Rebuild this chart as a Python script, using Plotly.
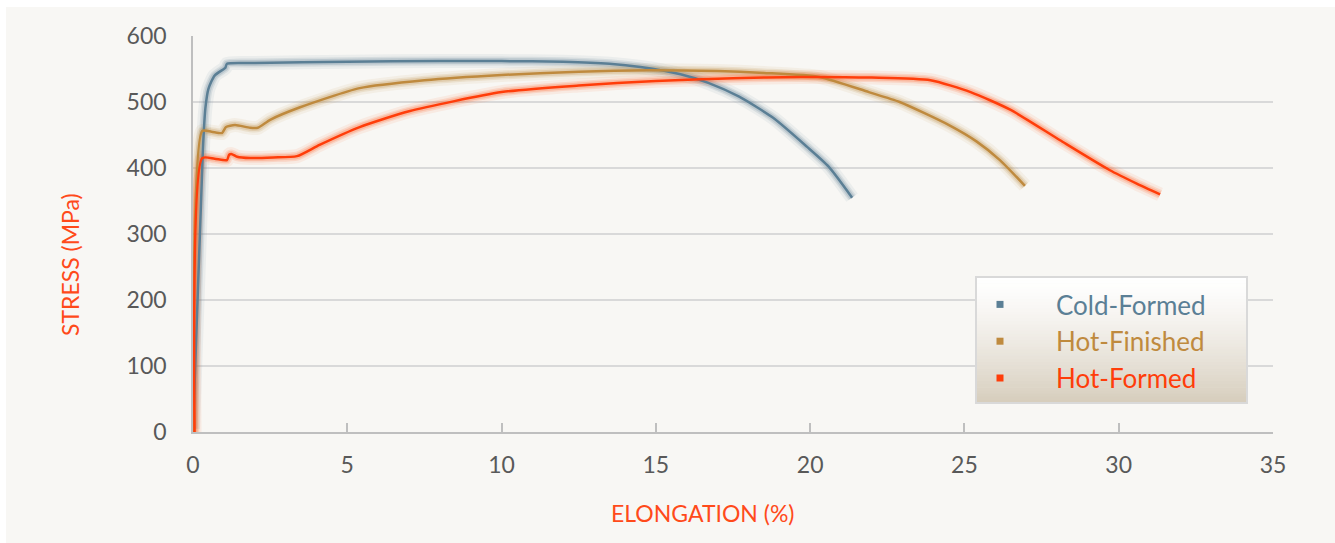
import plotly.graph_objects as go

# ---- data ----
cold_x = [0.0, 0.32, 0.4, 0.5, 0.7, 1.0, 1.05, 1.1, 2, 5, 8, 10, 12, 13.5, 14.5, 15.8, 16.7, 17.7, 18.8, 19.9, 20.6, 21.36]
cold_y = [5, 427, 490, 520, 540, 550, 552, 558, 559, 561, 562, 562, 561, 558, 553, 542, 529, 508, 476, 432, 402, 355]

hfin_x = [0.0, 0.3, 0.6, 0.94, 1.07, 1.36, 1.85, 2.1, 2.5, 3.47, 5.4, 7.5, 10, 12.5, 14.8, 17, 18.5, 20.3, 21.9, 22.9, 24.5, 25.4, 26.15, 26.96]
hfin_y = [0, 456, 455, 453, 462, 465, 461, 461, 473, 492, 521, 533, 541, 546, 548, 547, 544, 538, 515, 500, 465, 440, 412, 373]

hform_x = [0.05, 0.3, 0.7, 1.1, 1.17, 1.26, 1.43, 1.85, 2.6, 3.37, 4.1, 5.4, 7, 10, 12.5, 15, 17.5, 19.7, 22, 23.9, 25.2, 26.5, 28.1, 29.7, 30.6, 31.34]
hform_y = [0, 415, 414, 412, 420, 421, 417, 415, 416, 418, 435, 462, 486, 515, 525, 532, 536, 538, 537, 533, 515, 488, 442, 397, 376, 360]

series = [
    ("Cold-Formed", cold_x, cold_y, "#5B7F95", "rgba(91,127,149,{a})"),
    ("Hot-Finished", hfin_x, hfin_y, "#BF8A3E", "rgba(191,138,62,{a})"),
    ("Hot-Formed", hform_x, hform_y, "#FF3D0A", "rgba(255,90,30,{a})"),
]

x_ticks = [0, 5, 10, 15, 20, 25, 30, 35]
y_ticks = [0, 100, 200, 300, 400, 500, 600]
x_title = "ELONGATION (%)"
y_title = "STRESS (MPa)"

FONT = "Lato, 'Open Sans', sans-serif"
PANEL = "#F8F7F4"
TITLE_COLOR = "#FF4A1A"

fig = go.Figure()

# glow layers
for name, xs, ys, col, glow in series:
    for w, a in [(14, 0.08), (9, 0.15), (6, 0.22)]:
        fig.add_trace(go.Scatter(x=xs, y=ys, mode="lines", showlegend=False, hoverinfo="skip",
                                 line=dict(color=glow.format(a=a), width=w, shape="spline", smoothing=0.6)))
for name, xs, ys, col, glow in series:
    fig.add_trace(go.Scatter(x=xs, y=ys, mode="lines", showlegend=False, name=name,
                             line=dict(color=col, width=2.5, shape="spline", smoothing=0.6)))
# legend entries
for name, xs, ys, col, glow in series:
    fig.add_trace(go.Scatter(x=[None], y=[None], mode="markers", showlegend=True,
                             name="<span style='color:%s'>%s</span>" % (col, name),
                             marker=dict(symbol="square", size=7, color=col)))

L, T, PW, PH = 193, 36, 1080, 396
def px(xp):
    return (xp - L) / PW
def py(yp):
    return (T + PH - yp) / PH

# white outer border (top, left) and legend box
shapes = [
    dict(type="rect", xref="paper", yref="paper", x0=px(-5), x1=px(1345), y0=py(7), y1=py(-5),
         fillcolor="white", line=dict(width=0), layer="below"),
    dict(type="rect", xref="paper", yref="paper", x0=px(-5), x1=px(6), y0=py(550), y1=py(-5),
         fillcolor="white", line=dict(width=0), layer="below"),
]
lx0, lx1, ly0, ly1 = 976, 1247, 277, 403
n = 40
def lerp(a, b, t):
    return int(round(a + (b - a) * t))
for i in range(n):
    t = (i + 0.5) / n
    c = "rgb(%d,%d,%d)" % (lerp(255, 214, t ** 1.3), lerp(255, 205, t ** 1.3), lerp(255, 188, t ** 1.3))
    y_top = ly0 + (ly1 - ly0) * i / n
    y_bot = ly0 + (ly1 - ly0) * (i + 1) / n + 0.5
    shapes.append(dict(type="rect", xref="paper", yref="paper",
                       x0=px(lx0), x1=px(lx1), y0=py(y_bot), y1=py(y_top),
                       fillcolor=c, line=dict(width=0), layer="above"))
shapes.append(dict(type="rect", xref="paper", yref="paper",
                   x0=px(lx0), x1=px(lx1), y0=py(ly1), y1=py(ly0),
                   fillcolor="rgba(0,0,0,0)", line=dict(color="#D9D9D9", width=2), layer="above"))

annotations = [
    dict(text=x_title, xref="paper", yref="paper", x=px(703), y=py(513), xanchor="center", yanchor="middle",
         showarrow=False, font=dict(family=FONT, color=TITLE_COLOR, size=23)),
    dict(text=y_title, xref="paper", yref="paper", x=px(70), y=py(265), xanchor="center", yanchor="middle",
         showarrow=False, textangle=-90, font=dict(family=FONT, color=TITLE_COLOR, size=23)),
]

fig.update_layout(
    width=1335, height=543,
    margin=dict(l=L, r=1335 - L - PW, t=T, b=543 - T - PH),
    paper_bgcolor=PANEL, plot_bgcolor="rgba(0,0,0,0)",
    font=dict(family=FONT, color="#595959", size=23),
    shapes=shapes, annotations=annotations,
    legend=dict(x=px(944), y=py(281), xanchor="left", yanchor="top",
                bgcolor="rgba(0,0,0,0)", borderwidth=0,
                font=dict(family=FONT, size=26), itemwidth=102, tracegroupgap=0),
    xaxis=dict(range=[0, 35], tickvals=x_ticks, showgrid=False, zeroline=False,
               showline=True, linecolor="#BFBFBF", linewidth=1.5,
               ticks="inside", ticklen=9, tickcolor="#BFBFBF", tickwidth=1.5,
               ticklabelstandoff=12),
    yaxis=dict(range=[0, 600], tickvals=y_ticks, showgrid=True, gridcolor="#D9D9D9", gridwidth=1.5,
               zeroline=False, showline=True, linecolor="#BFBFBF", linewidth=1.5,
               ticks="", ticklabelstandoff=20),
)

fig.write_html("out.html", config={"displayModeBar": False},
               post_script="document.body.style.margin='0';document.body.style.overflow='hidden';document.body.style.background='%s';" % PANEL)
